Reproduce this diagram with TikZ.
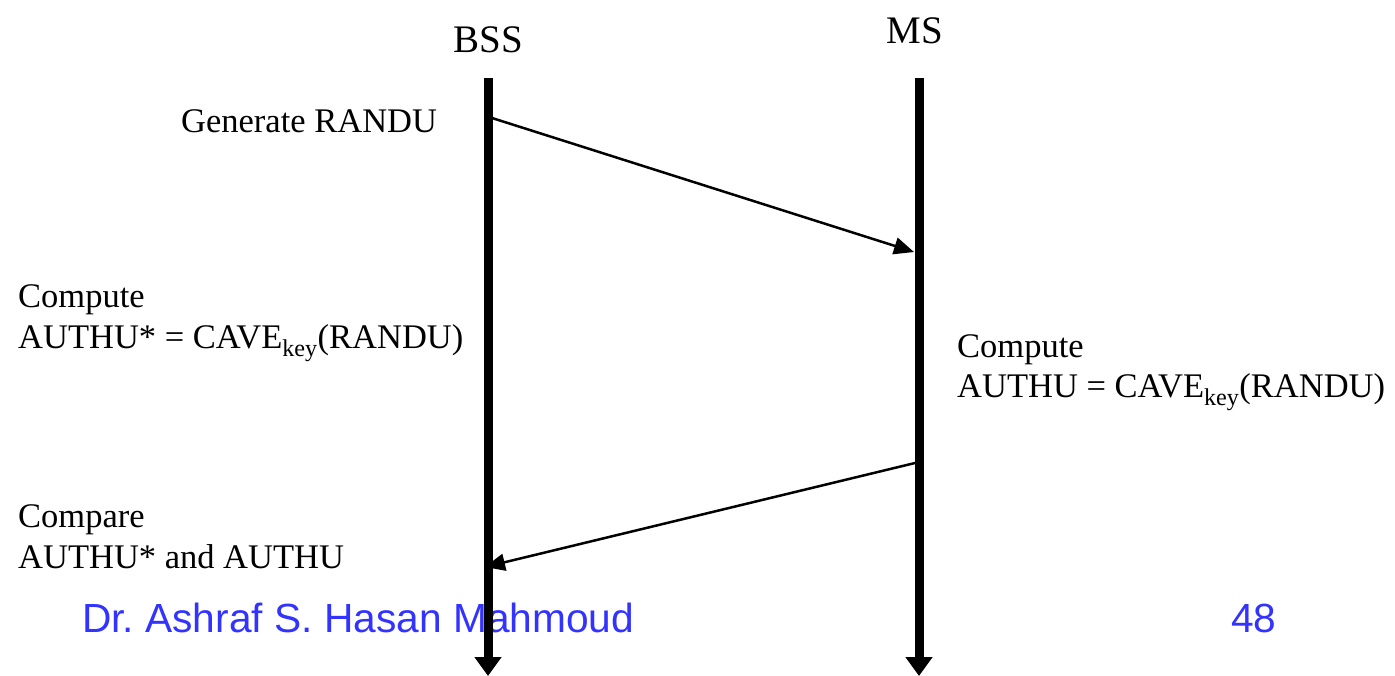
\documentclass[tikz,border=0pt]{standalone}
\usepackage{fontspec}
\setmainfont{Liberation Serif}
\newfontfamily\footfont{Liberation Sans}
\usetikzlibrary{arrows.meta}
\definecolor{footblue}{HTML}{3333FF}
\begin{document}
\begin{tikzpicture}[x=1pt,y=-1pt,
  lifeline/.style={line width=9pt,-{Triangle[length=19pt,width=26pt]}},
  msg/.style={line width=2.5pt,-{Triangle[length=20pt,width=17pt]}},
  head/.style={inner sep=0pt,anchor=base,font=\fontsize{39}{44}\selectfont},
  note/.style={inner sep=0pt,anchor=base west,align=left,
    font=\fontsize{34.5}{41}\selectfont},
  foot/.style={inner sep=0pt,anchor=base west,text=footblue,
    font=\footfont\fontsize{40.7}{46}\selectfont}]
  \useasboundingbox (0,0) rectangle (1395,675);

  % footer (lies under the lifelines)
  \node[foot] (author) at (82,632) {Dr.\ Ashraf S.\ Hasan Mahmoud};
  \node[foot] (page)   at (1231,632) {48};

  % entity labels
  \node[head] (bss) at (488,52) {BSS};
  \node[head] (ms)  at (915,43) {MS};

  % lifelines
  \coordinate (bssTop) at (488,78);
  \coordinate (bssEnd) at (488,676);
  \coordinate (msTop)  at (919,78);
  \coordinate (msEnd)  at (919,676);
  \draw[lifeline] (bssTop) -- (bssEnd);
  \draw[lifeline] (msTop) -- (msEnd);

  % messages
  \coordinate (m1a) at (492,118);
  \coordinate (m1b) at (914,252);
  \coordinate (m2a) at (915,463);
  \coordinate (m2b) at (485,567);
  \draw[msg] (m1a) -- (m1b);
  \draw[msg] (m2a) -- (m2b);

  % actions
  \node[note] (gen)  at (181,132) {Generate RANDU};
  \node[note] (cmp1) at (18,307) {Compute};
  \node[note] (eq1)  at (18,348) {AUTHU* = CAVE\textsubscript{key}(RANDU)};
  \node[note] (cmp2) at (957,357) {Compute};
  \node[note] (eq2)  at (957,397) {AUTHU = CAVE\textsubscript{key}(RANDU)};
  \node[note] (cmpr) at (18,527) {Compare};
  \node[note] (cmpb) at (18,568) {AUTHU* and AUTHU};
\end{tikzpicture}
\end{document}
